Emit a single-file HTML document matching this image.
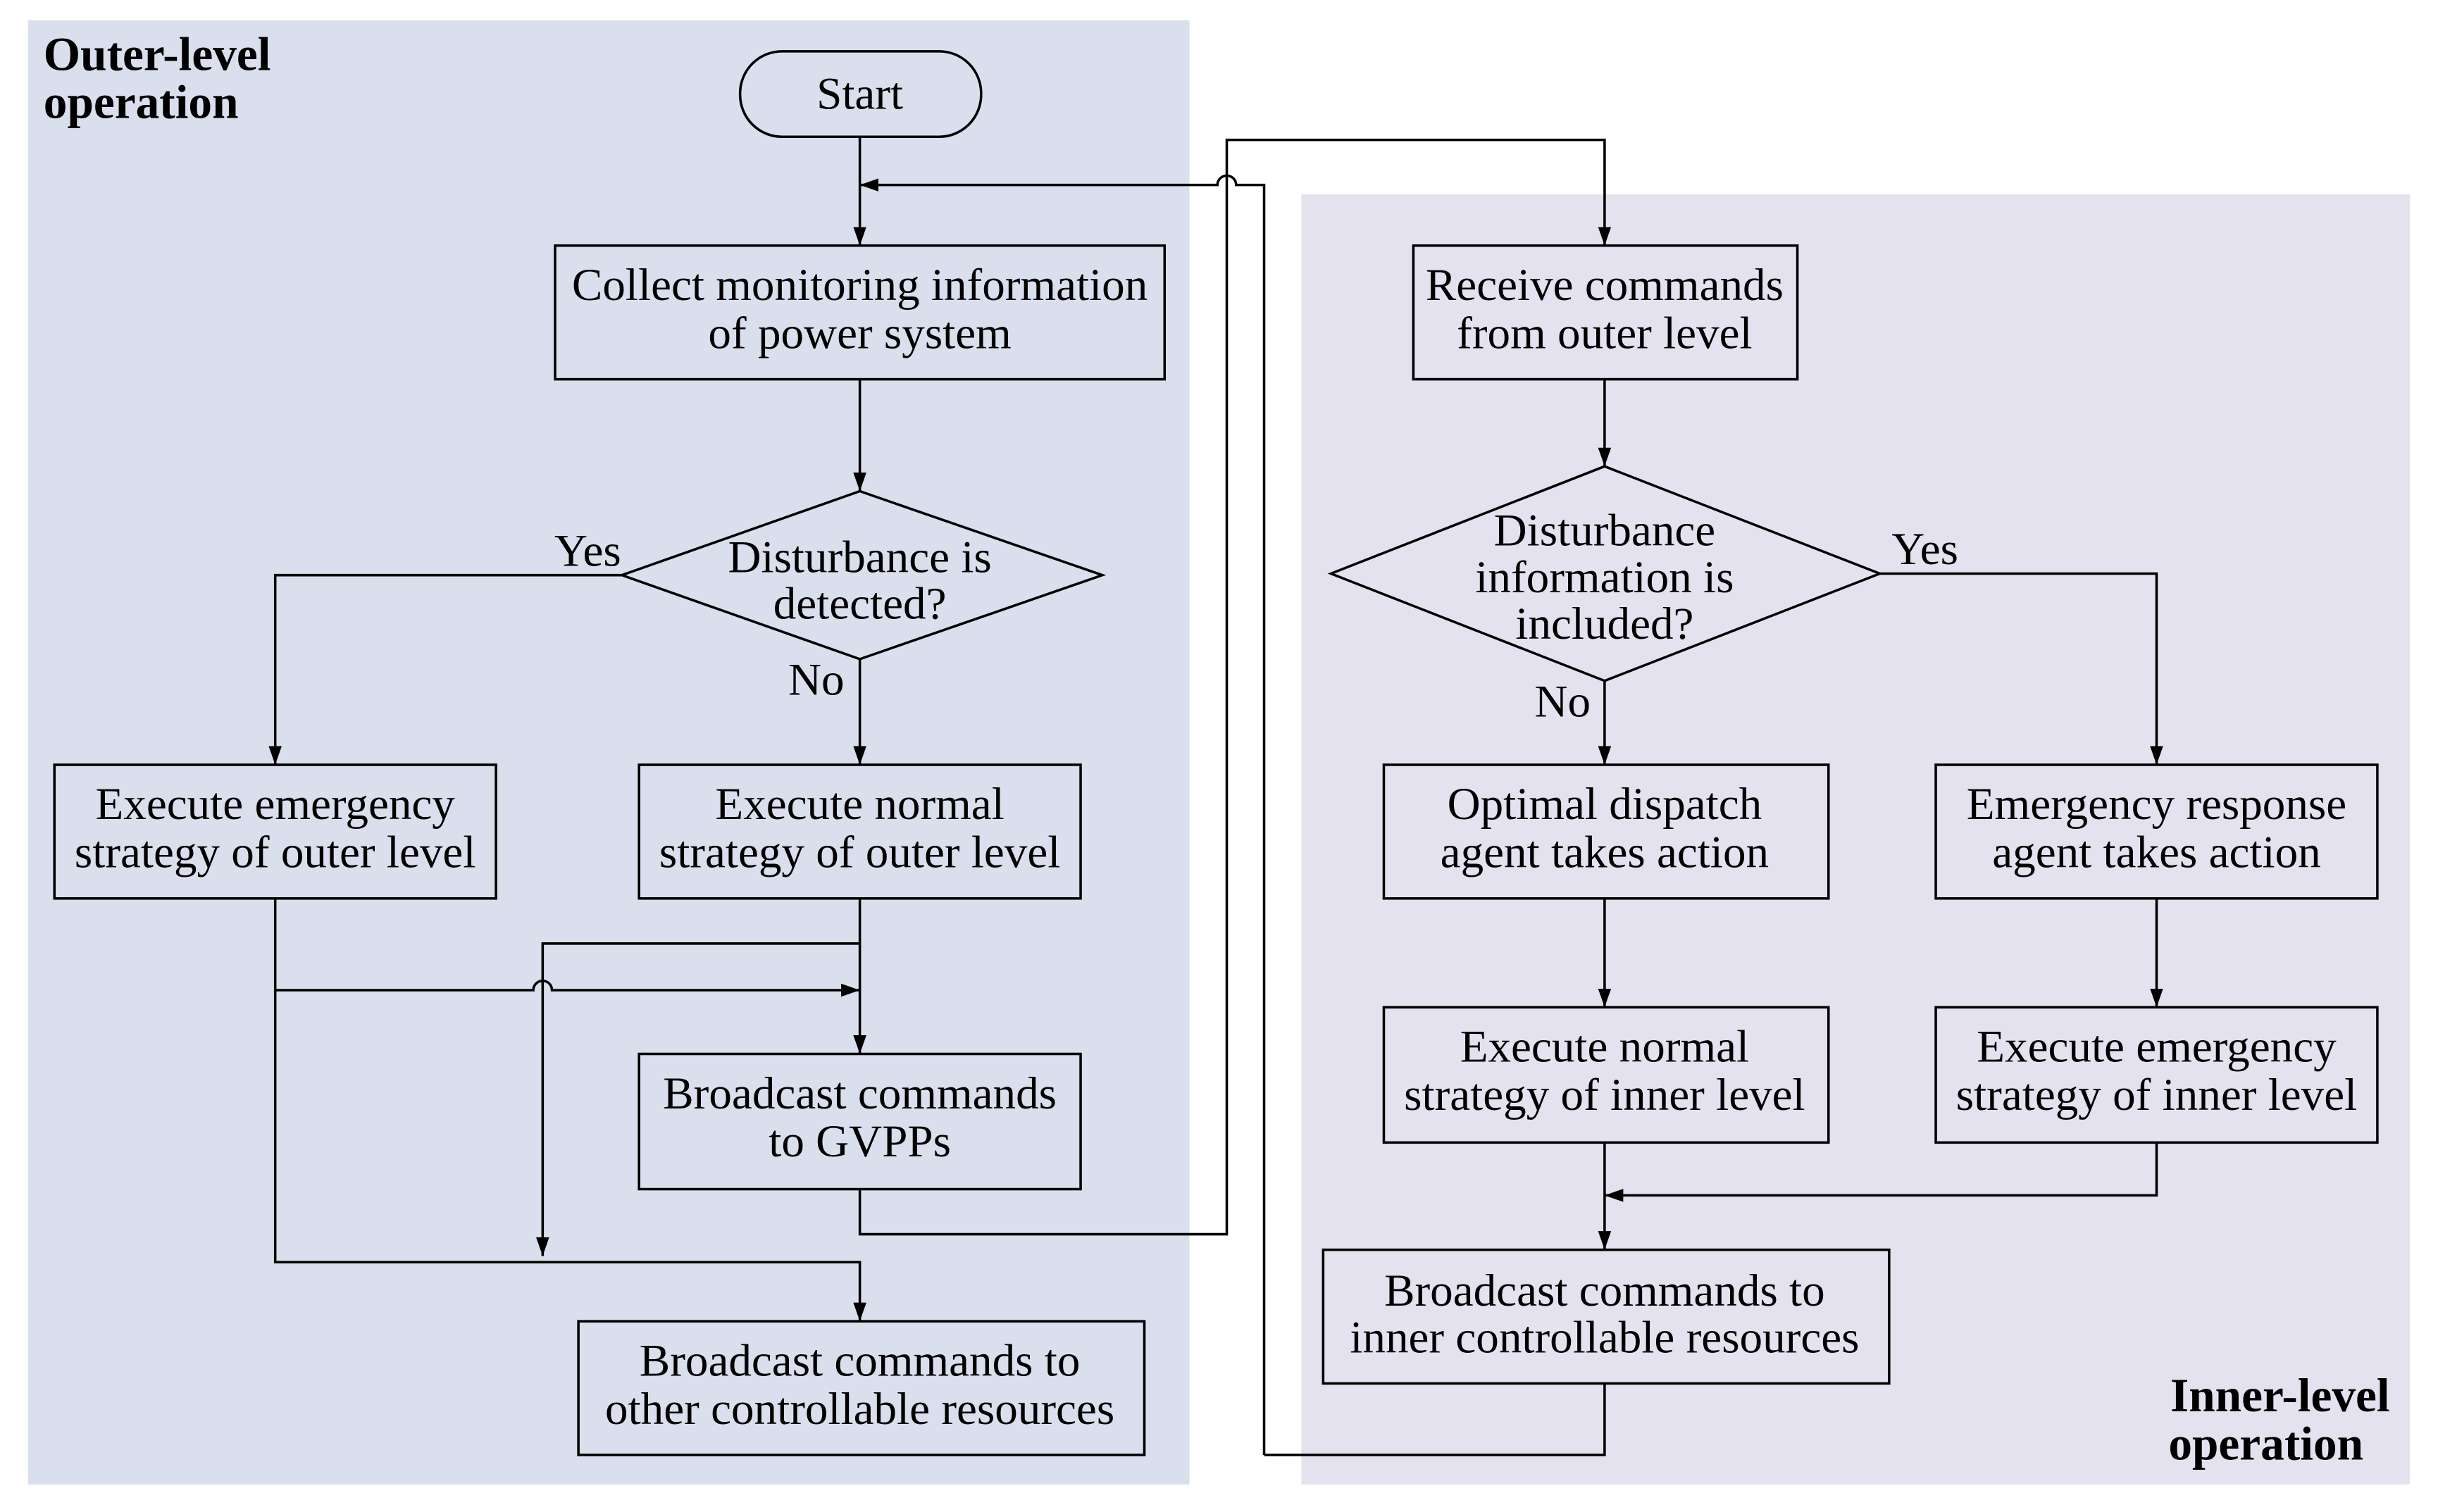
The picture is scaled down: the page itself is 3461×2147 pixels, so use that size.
<!DOCTYPE html>
<html><head><meta charset="utf-8"><style>html,body{margin:0;padding:0;background:#fff}svg{display:block}</style></head>
<body>
<svg width="3461" height="2147" viewBox="0 0 1568 972.7" preserveAspectRatio="none" xmlns="http://www.w3.org/2000/svg">
<defs><marker id="a" viewBox="0 0 10 10" refX="10" refY="5" markerWidth="12" markerHeight="12" markerUnits="userSpaceOnUse" orient="auto"><path d="M0,1.5L10,5L0,8.5z" fill="#000"/></marker></defs>
<rect x="18" y="13" width="747" height="942" fill="#d9dfec"/>
<rect x="837" y="125" width="713" height="830" fill="#e4e2ee"/>
<g font-family="Liberation Serif, serif" font-size="30.5" fill="#000">
<text x="28" y="45" font-weight="bold">Outer-level</text>
<text x="28" y="76" font-weight="bold">operation</text>
<text x="1537" y="908" font-weight="bold" text-anchor="end">Inner-level</text>
<text x="1520" y="939" font-weight="bold" text-anchor="end">operation</text>
</g>
<g fill="none" stroke="#000" stroke-width="1.6">
<rect x="476" y="33" width="155" height="55" rx="27"/>
<rect x="357" y="158" width="392" height="86"/>
<polygon points="400,370 553,316 709,370 553,424"/>
<rect x="35" y="492" width="284" height="86"/>
<rect x="411" y="492" width="284" height="86"/>
<rect x="411" y="678" width="284" height="87"/>
<rect x="372" y="850" width="364" height="86"/>
<rect x="909" y="158" width="247" height="86"/>
<polygon points="856,369 1032,300 1209,369 1032,438"/>
<rect x="890" y="492" width="286" height="86"/>
<rect x="1245" y="492" width="284" height="86"/>
<rect x="890" y="648" width="286" height="87"/>
<rect x="1245" y="648" width="284" height="87"/>
<rect x="851" y="804" width="364" height="86"/>
<path d="M553,88V158" marker-end="url(#a)"/>
<path d="M813,936V119H795a6,6 0 0 0 -12,0H553" marker-end="url(#a)"/>
<path d="M553,244V316" marker-end="url(#a)"/>
<path d="M400,370H177V492" marker-end="url(#a)"/>
<path d="M553,424V492" marker-end="url(#a)"/>
<path d="M177,578V812H553V850" marker-end="url(#a)"/>
<path d="M177,637H343a6,6 0 0 1 12,0H553" marker-end="url(#a)"/>
<path d="M553,578V678" marker-end="url(#a)"/>
<path d="M553,607H349V808" marker-end="url(#a)"/>
<path d="M553,765V794H789V90H1032V158" marker-end="url(#a)"/>
<path d="M1032,244V300" marker-end="url(#a)"/>
<path d="M1209,369H1387V492" marker-end="url(#a)"/>
<path d="M1032,438V492" marker-end="url(#a)"/>
<path d="M1032,578V648" marker-end="url(#a)"/>
<path d="M1387,578V648" marker-end="url(#a)"/>
<path d="M1032,735V804" marker-end="url(#a)"/>
<path d="M1387,735V769H1032" marker-end="url(#a)"/>
<path d="M1032,890V936H813"/>
</g>
<g font-family="Liberation Serif, serif" font-size="29.5" fill="#000" text-anchor="middle">
<text x="553" y="70">Start</text>
<text x="553" y="193">Collect monitoring information</text>
<text x="553" y="224">of power system</text>
<text x="553" y="368">Disturbance is</text>
<text x="553" y="398">detected?</text>
<text x="378" y="364">Yes</text>
<text x="525" y="447">No</text>
<text x="177" y="527">Execute emergency</text>
<text x="177" y="558">strategy of outer level</text>
<text x="553" y="527">Execute normal</text>
<text x="553" y="558">strategy of outer level</text>
<text x="553" y="713">Broadcast commands</text>
<text x="553" y="744">to GVPPs</text>
<text x="553" y="885">Broadcast commands to</text>
<text x="553" y="916">other controllable resources</text>
<text x="1032" y="193">Receive commands</text>
<text x="1032" y="224">from outer level</text>
<text x="1032" y="351">Disturbance</text>
<text x="1032" y="381">information is</text>
<text x="1032" y="411">included?</text>
<text x="1238" y="363">Yes</text>
<text x="1005" y="461">No</text>
<text x="1032" y="527">Optimal dispatch</text>
<text x="1032" y="558">agent takes action</text>
<text x="1387" y="527">Emergency response</text>
<text x="1387" y="558">agent takes action</text>
<text x="1032" y="683">Execute normal</text>
<text x="1032" y="714">strategy of inner level</text>
<text x="1387" y="683">Execute emergency</text>
<text x="1387" y="714">strategy of inner level</text>
<text x="1032" y="840">Broadcast commands to</text>
<text x="1032" y="870">inner controllable resources</text>
</g>
</svg>
</body></html>
